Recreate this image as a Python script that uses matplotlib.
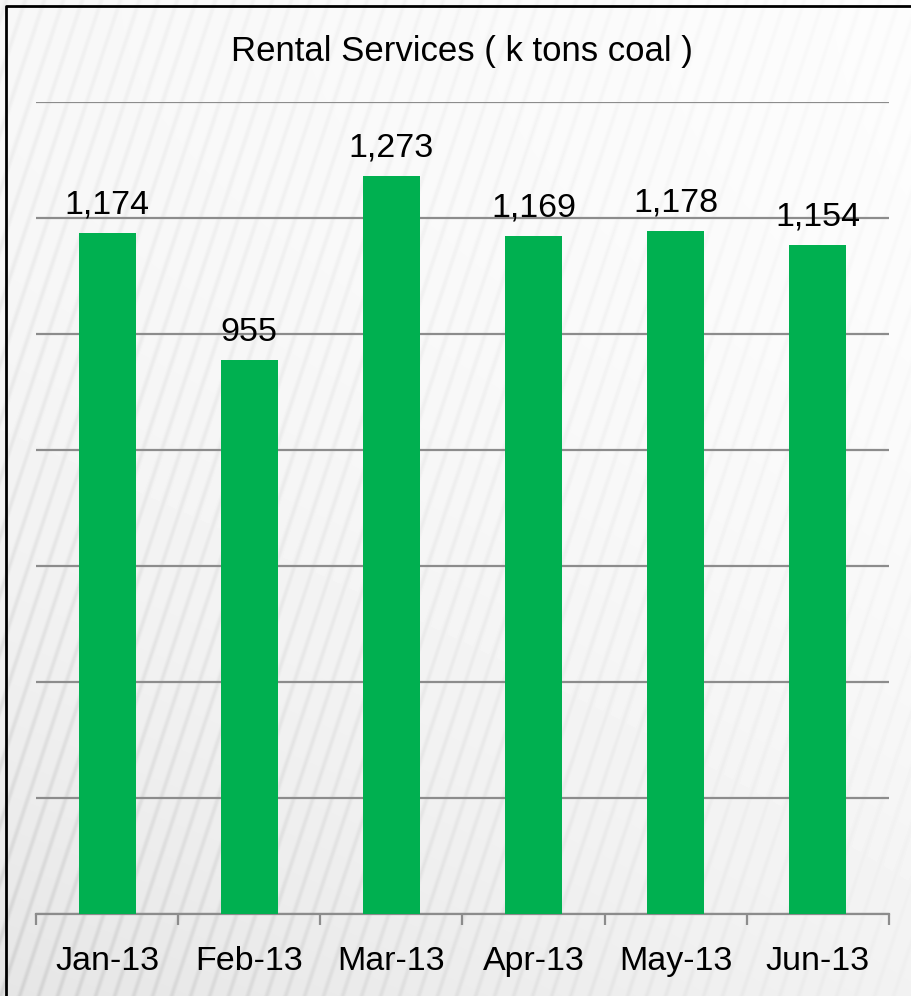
import numpy as np
import matplotlib
matplotlib.use("Agg")
import matplotlib.pyplot as plt

categories = ["Jan-13", "Feb-13", "Mar-13", "Apr-13", "May-13", "Jun-13"]
values = [1174, 955, 1273, 1169, 1178, 1154]
title = "Rental Services ( k tons coal )"

W, H = 911, 996
fig = plt.figure(figsize=(W / 100, H / 100), dpi=100)
plt.rcParams['font.family'] = ['Liberation Sans', 'DejaVu Sans']

# decorative striped background
bg = fig.add_axes([0, 0, 1, 1])
yy, xx = np.mgrid[0:H, 0:W].astype(float)
base = 0.99 - 0.07 * (yy / H) ** 2 * (1 - 0.4 * xx / W) - 0.02 * (1 - xx / W)
amp = 0.015 + 0.06 * (1 - xx / W) * (0.3 + 0.7 * yy / H)
phase = (xx - (H - yy) * 0.33) / 19.0
stripe = np.clip(np.cos(2 * np.pi * phase), 0, 1) ** 3
img = np.clip(base - amp * stripe, 0, 1)
bg.imshow(img, cmap="gray", vmin=0, vmax=1, extent=[0, W, H, 0], aspect="auto")
bg.set_xlim(0, W)
bg.set_ylim(H, 0)
bg.axis("off")
bg.plot([6, 6, W], [H, 6, 6], color="black", lw=2.0, solid_capstyle="butt")

ax = fig.add_axes([36 / W, (H - 914) / H, (889 - 36) / W, (914 - 102) / H])
ax.patch.set_alpha(0)
x = np.arange(len(categories))
bars = ax.bar(x, values, width=0.40, color="#00B050", zorder=3)
ax.set_xlim(-0.5, len(categories) - 0.5)
ax.set_ylim(0, 1400)
ax.set_yticks(np.arange(0, 1401, 200))
ax.yaxis.grid(True, color="#8c8c8c", lw=1.6)
ax.set_axisbelow(True)
ax.tick_params(axis="y", length=0, labelleft=False)
for s in ["left", "right", "top"]:
    ax.spines[s].set_visible(False)
ax.spines["bottom"].set_color("#8c8c8c")
ax.spines["bottom"].set_linewidth(1.6)
ax.set_xticks(np.arange(-0.5, len(categories), 1.0))
ax.set_xticklabels([])
ax.tick_params(axis="x", which="major", length=8, width=1.6, color="#8c8c8c", direction="out")
ax.set_xticks(x, minor=True)
ax.set_xticklabels(categories, minor=True, fontsize=24.5)
ax.tick_params(axis="x", which="minor", length=0, pad=23)

for xi, v in zip(x, values):
    ax.annotate(f"{v:,}", (xi, v), xytext=(0, 9), textcoords="offset points",
                ha="center", va="bottom", fontsize=24.5, color="black")

fig.text(462 / W, 1 - 51 / H, title, ha="center", va="center", fontsize=25, color="black")

fig.savefig("out.png", dpi=100)
